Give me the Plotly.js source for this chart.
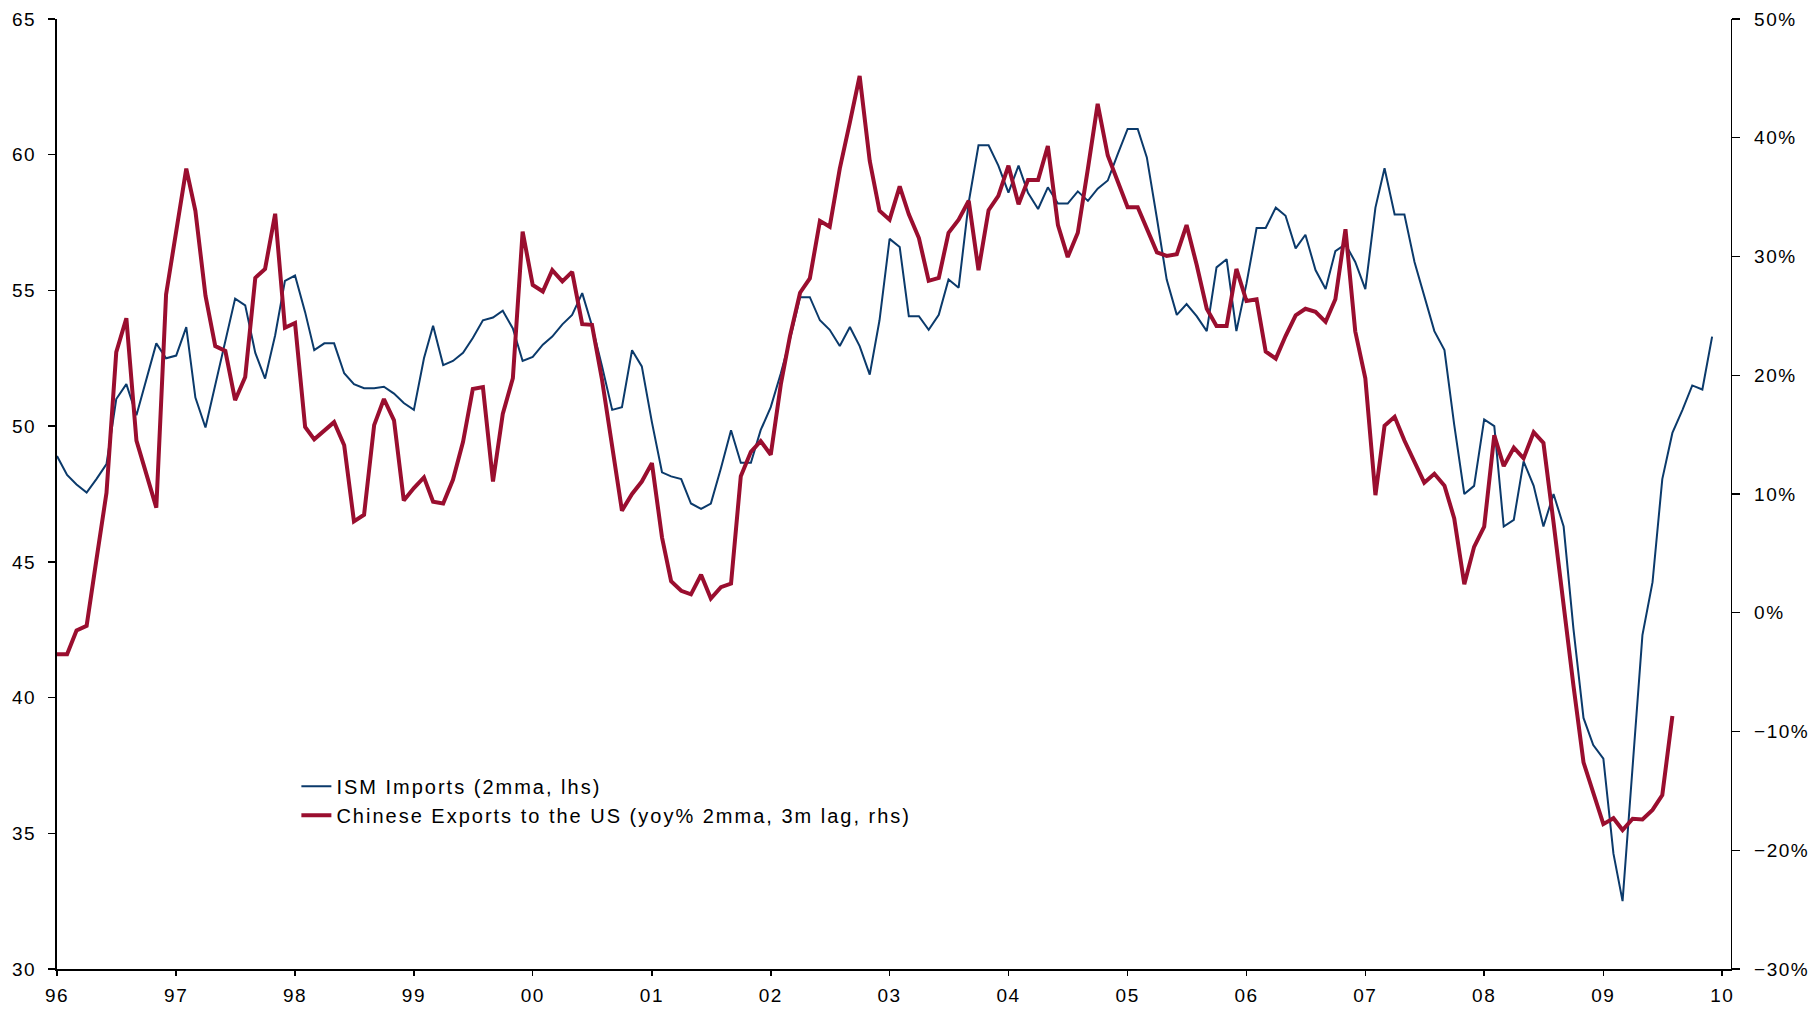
<!DOCTYPE html>
<html><head><meta charset="utf-8">
<script src="https://cdn.plot.ly/plotly-3.0.1.min.js"></script>
<style>
html,body{margin:0;padding:0;background:#fff;}
#chart{width:1820px;height:1009px;}
svg text{letter-spacing:1.5px;}
svg text.legendtext{letter-spacing:2px;}
</style></head><body><div id="chart"></div>
<script>
const startYear = 1996;
const ismName = 'ISM Imports (2mma, lhs)';
const chinaName = 'Chinese Exports to the US (yoy% 2mma, 3m lag, rhs)';
// ISM Imports, 2-month moving average, monthly Jan 1996 - Dec 2009 (left axis)
const ismImports = [
48.9,48.2,47.85,47.55,48.05,48.6,51.0,51.55,50.4,51.7,53.05,52.5,
52.6,53.65,51.05,49.95,51.5,53.1,54.7,54.45,52.7,51.75,53.35,55.35,
55.55,54.2,52.8,53.05,53.05,51.95,51.55,51.4,51.4,51.45,51.2,50.85,
50.6,52.5,53.7,52.25,52.4,52.7,53.25,53.9,54.0,54.25,53.6,52.4,
52.55,53.0,53.3,53.75,54.1,54.9,53.7,52.2,50.6,50.7,52.8,52.2,
50.15,48.3,48.15,48.05,47.15,46.95,47.15,48.45,49.85,48.65,48.65,49.85,
50.7,51.95,53.2,54.75,54.75,53.9,53.55,52.95,53.65,52.95,51.9,53.9,
56.9,56.6,54.05,54.05,53.55,54.1,55.4,55.1,58.25,60.35,60.35,59.6,
58.6,59.6,58.6,58.0,58.8,58.2,58.2,58.65,58.3,58.75,59.05,60.0,
60.95,60.95,59.9,57.65,55.4,54.1,54.5,54.05,53.5,55.85,56.15,53.5,
55.25,57.3,57.3,58.05,57.75,56.55,57.05,55.75,55.05,56.45,56.7,56.05,
55.05,58.05,59.5,57.8,57.8,56.05,54.75,53.5,52.8,50.05,47.5,47.8,
50.25,50.0,46.3,46.55,48.7,47.8,46.3,47.5,46.3,42.55,39.25,38.25,
37.75,34.25,32.5,37.45,42.3,44.25,48.05,49.75,50.6,51.5,51.35,53.3
];
// Chinese exports to the US, yoy % (2mma, 3m lag), monthly Jan 1996 - Aug 2009 (right axis)
const chinaExports = [
-3.5,-3.5,-1.5,-1.1,4.45,10.1,21.95,24.8,14.5,11.65,8.85,26.8,
32.1,37.4,33.85,26.7,22.45,22.05,17.9,19.85,28.2,28.95,33.6,24.0,
24.4,15.65,14.6,15.3,16.05,14.1,7.7,8.25,15.8,18.0,16.2,9.45,
10.5,11.4,9.35,9.2,11.2,14.4,18.85,19.0,11.05,16.75,19.75,32.1,
27.6,27.05,28.85,27.9,28.7,24.3,24.25,19.6,14.2,8.6,10.0,11.05,
12.6,6.35,2.65,1.85,1.55,3.2,1.2,2.15,2.45,11.5,13.55,14.45,
13.3,19.25,23.3,26.95,28.15,33.0,32.5,37.4,41.3,45.2,38.05,33.85,
33.1,35.9,33.55,31.55,27.95,28.2,32.0,33.1,34.7,28.85,33.9,35.1,
37.65,34.4,36.45,36.45,39.3,32.65,29.95,32.0,37.4,42.85,38.5,36.45,
34.15,34.15,32.4,30.35,30.05,30.2,32.65,29.3,25.6,24.15,24.15,28.95,
26.25,26.4,22.0,21.4,23.3,25.05,25.6,25.35,24.5,26.4,32.3,23.7,
19.75,9.9,15.75,16.5,14.5,12.7,10.95,11.7,10.7,7.95,2.4,5.55,
7.25,14.95,12.35,13.9,13.0,15.2,14.3,7.6,0.4,-6.1,-12.6,-15.2,
-17.8,-17.3,-18.3,-17.35,-17.4,-16.6,-15.35,-8.7
];

function monthDates(n){
  const out = [];
  for (let i = 0; i < n; i++) {
    const y = startYear + Math.floor(i / 12);
    const m = (i % 12) + 1;
    out.push(y + '-' + String(m).padStart(2, '0') + '-01');
  }
  return out;
}

const FONT = '"Liberation Sans", Arial, sans-serif';

const traces = [
  {
    type: 'scatter', mode: 'lines', name: ismName,
    x: monthDates(ismImports.length), y: ismImports,
    xaxis: 'x', yaxis: 'y',
    line: {color: '#0b3a6b', width: 2}
  },
  {
    type: 'scatter', mode: 'lines', name: chinaName,
    x: monthDates(chinaExports.length), y: chinaExports,
    xaxis: 'x', yaxis: 'y2',
    line: {color: '#9a0e2f', width: 4}
  }
];

const layout = {
  width: 1820, height: 1009,
  margin: {l: 57, r: 89, t: 19, b: 40, pad: 0},
  paper_bgcolor: '#ffffff', plot_bgcolor: '#ffffff',
  font: {family: FONT, size: 19, color: '#000000'},
  showlegend: true,
  legend: {
    x: 0.143, xanchor: 'left', y: 0.213, yanchor: 'top',
    bgcolor: 'rgba(0,0,0,0)', borderwidth: 0,
    font: {family: FONT, size: 20, color: '#000000'},
    traceorder: 'normal'
  },
  xaxis: {
    type: 'date', range: ['1996-01-01', '2010-01-28'],
    tickformat: '%y', dtick: 'M12', tick0: '1996-01-01',
    ticks: 'outside', ticklen: 5, tickwidth: 1.5, tickcolor: '#000',
    showline: true, linecolor: '#000', linewidth: 2,
    showgrid: false, zeroline: false, ticklabelstandoff: 3,
    tickfont: {family: FONT, size: 19, color: '#000'}
  },
  yaxis: {
    range: [30, 65], dtick: 5, tick0: 30,
    ticks: 'outside', ticklen: 7, tickwidth: 1.5, tickcolor: '#000',
    showline: true, linecolor: '#000', linewidth: 2,
    showgrid: false, zeroline: false, ticklabelstandoff: 8,
    tickfont: {family: FONT, size: 19, color: '#000'}
  },
  yaxis2: {
    overlaying: 'y', side: 'right', anchor: 'x',
    range: [-30, 50], dtick: 10, tick0: -30, ticksuffix: '%',
    ticks: 'outside', ticklen: 8, tickwidth: 1.3, tickcolor: '#000',
    showline: true, linecolor: '#000', linewidth: 1.3,
    showgrid: false, zeroline: false, ticklabelstandoff: 10,
    tickfont: {family: FONT, size: 19, color: '#000'}
  },
  yaxis3: {
    overlaying: 'y', side: 'right', anchor: 'x',
    range: [-30, 50], dtick: 10, tick0: -30,
    ticks: 'inside', ticklen: 7, tickwidth: 1.3, tickcolor: '#000',
    showticklabels: false, showline: false,
    showgrid: false, zeroline: false
  }
};

Plotly.newPlot('chart', traces, layout, {displayModeBar: false, staticPlot: true});
</script>
</body></html>
